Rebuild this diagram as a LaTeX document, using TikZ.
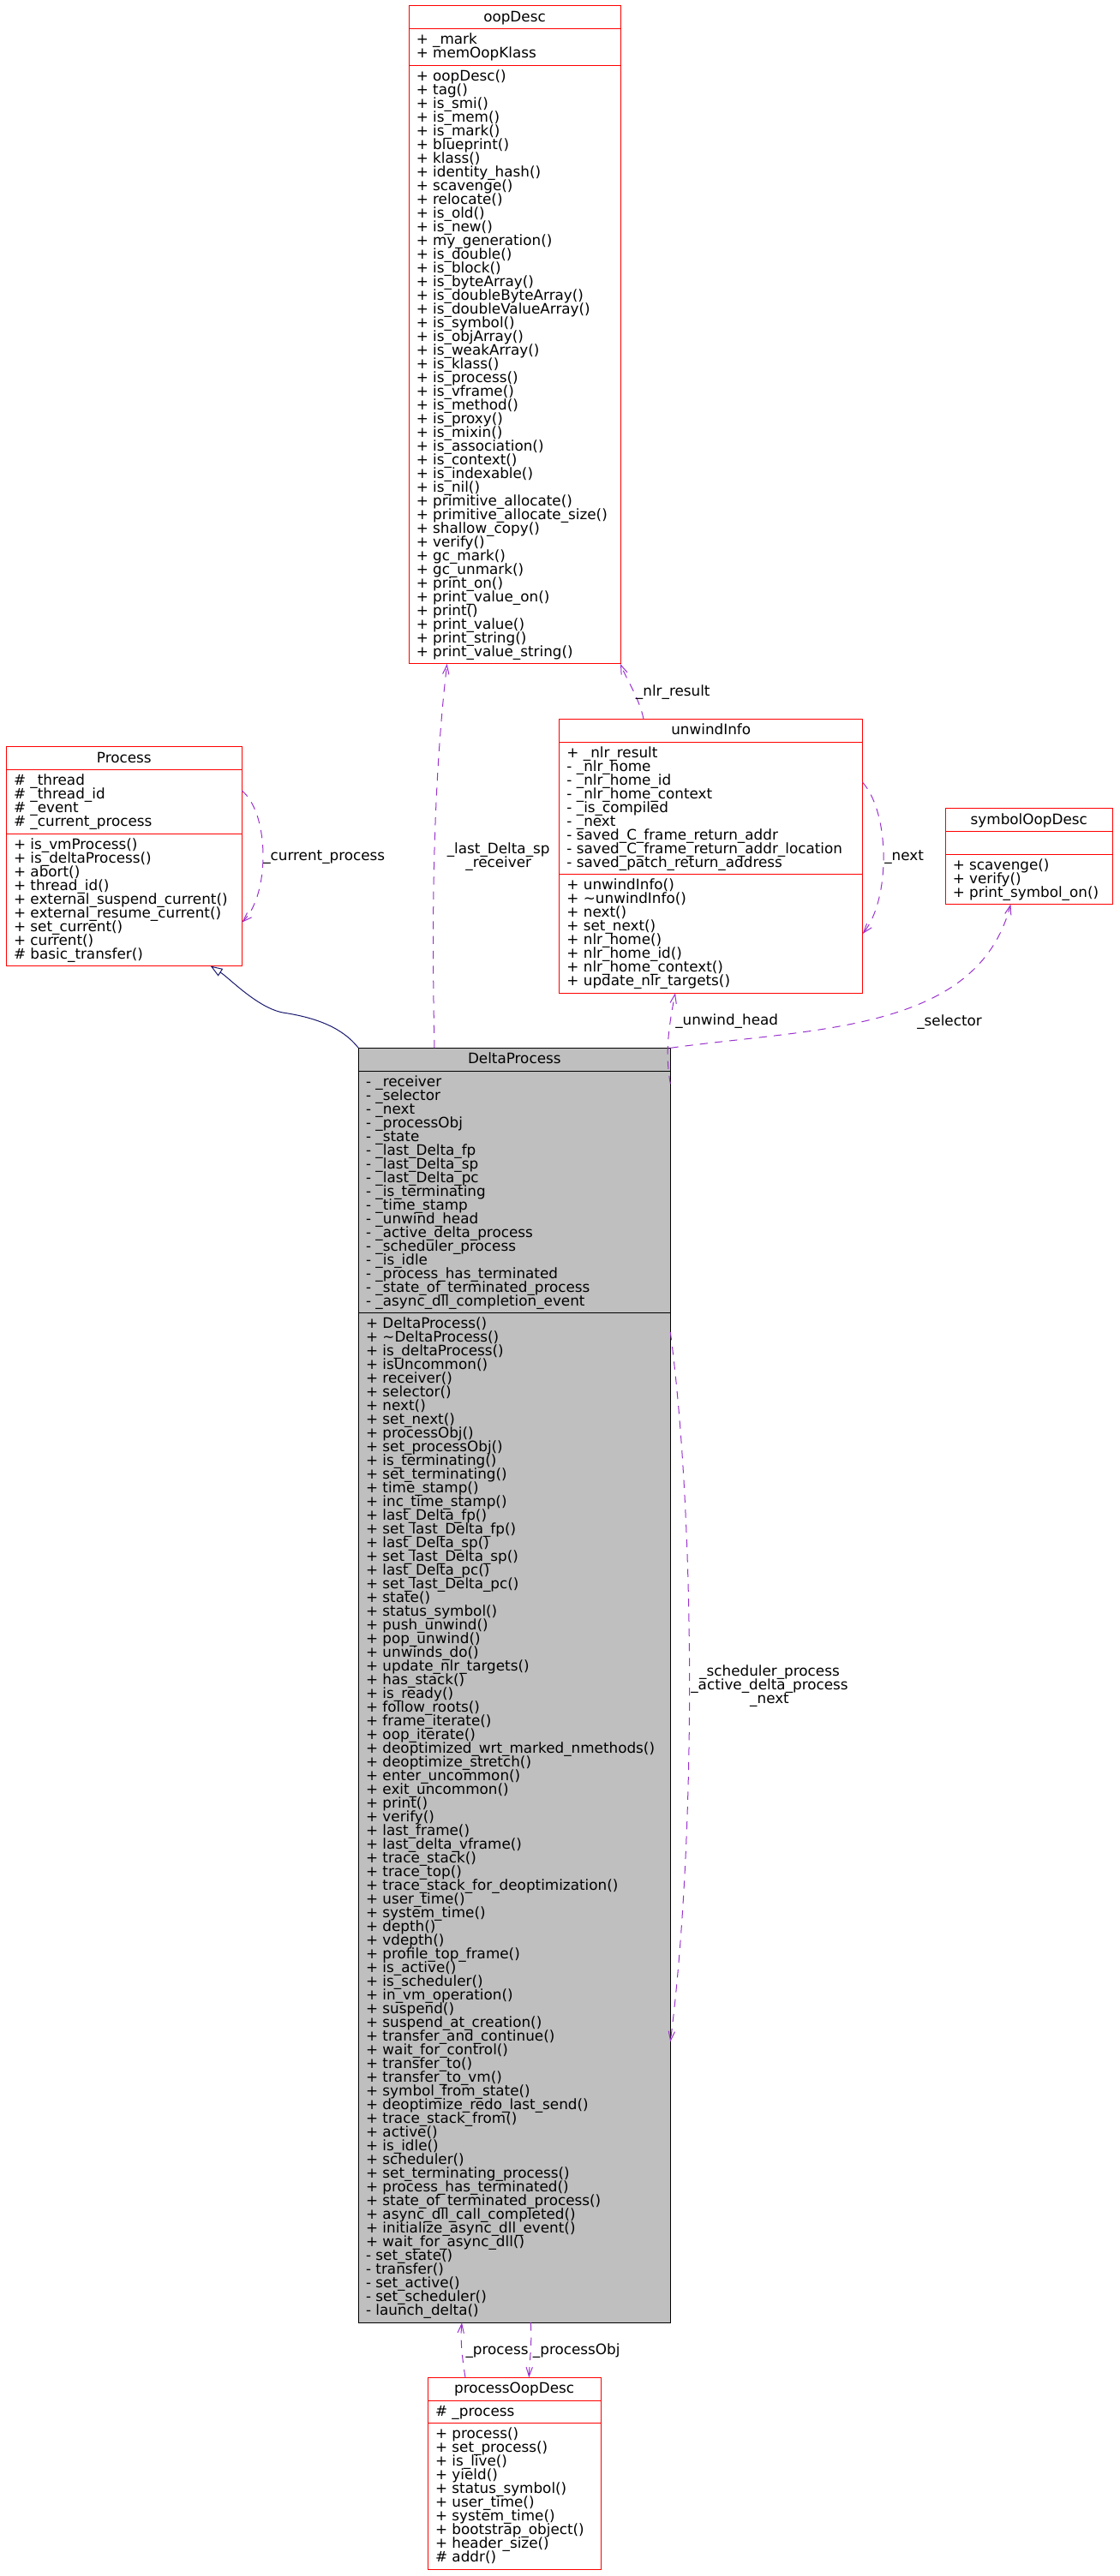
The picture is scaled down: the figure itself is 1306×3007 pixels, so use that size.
\documentclass[tikz,border=0pt]{standalone}
\usepackage{fontspec}
\setmainfont{DejaVu Sans}
\usetikzlibrary{arrows.meta,calc}
\definecolor{edgepurple}{HTML}{9A32CD}
\definecolor{inhblue}{HTML}{191970}
\definecolor{boxgrey}{HTML}{BFBFBF}
\newcommand\umlfont{\fontsize{12.6}{12}\selectfont}
\setlength{\lineskiplimit}{-100pt}
\tikzset{
  redbox/.style={draw=red, line width=0.75pt, fill=white, inner sep=0pt, outer sep=0pt},
  greybox/.style={draw=black, line width=0.75pt, fill=boxgrey, inner sep=0pt, outer sep=0pt},
  cls/.style={redbox},
  linetext/.style={font=\umlfont, inner sep=0pt, anchor=base west},
  titletext/.style={font=\umlfont, inner sep=0pt, anchor=base},
  usage/.style={draw=edgepurple, line width=0.75pt, dash pattern=on 7pt off 6pt,
    -{Straight Barb[length=8pt,width=5.5pt]}},
  inh/.style={draw=inhblue, line width=0.75pt,
    -{Triangle[open,length=10.5pt,width=7.5pt,fill=white]}},
  lbl/.style={font=\umlfont, inner sep=0pt, anchor=base west},
  lblc/.style={font=\umlfont, inner sep=0pt, anchor=base},
}
\catcode`\_=12
% #1 name, #2 left, #3 top, #4 width, #5 title, #6 n attrs, #7 attrs, #8 n methods, #9 methods
\newcommand\umlclass[9]{%
  \pgfmathsetmacro\clsya{#3+26.7}%
  \pgfmathsetmacro\clsyb{\clsya+(#6==0)*26.7+(#6>0)*(16*#6+10.7)}%
  \pgfmathsetmacro\clsyc{\clsyb+16*#8+10.5}%
  \pgfmathsetmacro\clshh{(\clsyc-#3)*0.75}%
  \pgfmathsetmacro\clsww{#4*0.75}%
  \node[cls, anchor=north west, minimum width=\clsww pt, minimum height=\clshh pt] (#1) at (#2,#3) {};
  \draw[cls, fill=none] (#2,\clsya) -- ++(#4,0);
  \draw[cls, fill=none] (#2,\clsyb) -- ++(#4,0);
  \node[titletext] (#1-title) at ({#2+#4/2},{#3+18.5}) {#5};
  \ifnum#6>0
    \foreach \itm [count=\i from 0] in {#7} {\node[linetext] (#1-a\i) at ({#2+8.5},{\clsya+18+16*\i}) {\itm};}
  \fi
  \foreach \itm [count=\i from 0] in {#9} {\node[linetext] (#1-m\i) at ({#2+8.5},{\clsyb+18+16*\i}) {\itm};}
}
\begin{document}
\begin{tikzpicture}[x=0.75pt,y=-0.75pt]
\fill[white] (0,0) rectangle (1306,3007);
\useasboundingbox (0,0) rectangle (1306,3007);

\tikzset{cls/.style={redbox}}
\umlclass{oop}{477}{7}{247}{oopDesc}{2}{+ _mark, + memOopKlass}{43}{+ oopDesc(), + tag(), + is_smi(), + is_mem(), + is_mark(), + blueprint(), + klass(), + identity_hash(), + scavenge(), + relocate(), + is_old(), + is_new(), + my_generation(), + is_double(), + is_block(), + is_byteArray(), + is_doubleByteArray(), + is_doubleValueArray(), + is_symbol(), + is_objArray(), + is_weakArray(), + is_klass(), + is_process(), + is_vframe(), + is_method(), + is_proxy(), + is_mixin(), + is_association(), + is_context(), + is_indexable(), + is_nil(), + primitive_allocate(), + primitive_allocate_size(), + shallow_copy(), + verify(), + gc_mark(), + gc_unmark(), + print_on(), + print_value_on(), + print(), + print_value(), + print_string(), + print_value_string()}

\umlclass{proc}{7.3}{871.7}{275}{Process}{4}{\# _thread, \# _thread_id, \# _event, \# _current_process}{9}{+ is_vmProcess(), + is_deltaProcess(), + abort(), + thread_id(), + external_suspend_current(), + external_resume_current(), + set_current(), + current(), \# basic_transfer()}

\umlclass{unwind}{652.7}{839.3}{354}{unwindInfo}{9}{+ _nlr_result, - _nlr_home, - _nlr_home_id, - _nlr_home_context, - _is_compiled, - _next, - saved_C_frame_return_addr, - saved_C_frame_return_addr_location, - saved_patch_return_address}{8}{+ unwindInfo(), + \textasciitilde unwindInfo(), + next(), + set_next(), + nlr_home(), + nlr_home_id(), + nlr_home_context(), + update_nlr_targets()}

\umlclass{sym}{1103}{943.7}{195.5}{symbolOopDesc}{0}{}{3}{+ scavenge(), + verify(), + print_symbol_on()}

\tikzset{cls/.style={greybox}}
\umlclass{delta}{418.3}{1223.3}{364}{DeltaProcess}{17}{- _receiver, - _selector, - _next, - _processObj, - _state, - _last_Delta_fp, - _last_Delta_sp, - _last_Delta_pc, - _is_terminating, - _time_stamp, - _unwind_head, - _active_delta_process, - _scheduler_process, - _is_idle, - _process_has_terminated, - _state_of_terminated_process, - _async_dll_completion_event}{73}{+ DeltaProcess(), + \textasciitilde DeltaProcess(), + is_deltaProcess(), + isUncommon(), + receiver(), + selector(), + next(), + set_next(), + processObj(), + set_processObj(), + is_terminating(), + set_terminating(), + time_stamp(), + inc_time_stamp(), + last_Delta_fp(), + set_last_Delta_fp(), + last_Delta_sp(), + set_last_Delta_sp(), + last_Delta_pc(), + set_last_Delta_pc(), + state(), + status_symbol(), + push_unwind(), + pop_unwind(), + unwinds_do(), + update_nlr_targets(), + has_stack(), + is_ready(), + follow_roots(), + frame_iterate(), + oop_iterate(), + deoptimized_wrt_marked_nmethods(), + deoptimize_stretch(), + enter_uncommon(), + exit_uncommon(), + print(), + verify(), + last_frame(), + last_delta_vframe(), + trace_stack(), + trace_top(), + trace_stack_for_deoptimization(), + user_time(), + system_time(), + depth(), + vdepth(), + profile_top_frame(), + is_active(), + is_scheduler(), + in_vm_operation(), + suspend(), + suspend_at_creation(), + transfer_and_continue(), + wait_for_control(), + transfer_to(), + transfer_to_vm(), + symbol_from_state(), + deoptimize_redo_last_send(), + trace_stack_from(), + active(), + is_idle(), + scheduler(), + set_terminating_process(), + process_has_terminated(), + state_of_terminated_process(), + async_dll_call_completed(), + initialize_async_dll_event(), + wait_for_async_dll(), - set_state(), - transfer(), - set_active(), - set_scheduler(), - launch_delta()}

\tikzset{cls/.style={redbox}}
\umlclass{pod}{499.3}{2775.3}{201.7}{processOopDesc}{1}{\# _process}{10}{+ process(), + set_process(), + is_live(), + yield(), + status_symbol(), + user_time(), + system_time(), + bootstrap_object(), + header_size(), \# addr()}

% inheritance
\draw[inh] (delta.north west) .. controls (400,1200) and (370,1188) .. (330,1182)
  .. controls (300,1176) and (268,1142) .. ($(proc.south west)+(238.4,0)$);

% Process self loop
\draw[usage] ($(proc.north east)+(0,51.3)$) .. controls (315,950) and (315,1045) .. ($(proc.north east)+(0,205)$);
\node[lbl] (lcur) at (307,1004) {_current_process};

% unwindInfo self loop
\draw[usage] ($(unwind.north east)+(0,74)$) .. controls (1039,950) and (1039,1050) .. ($(unwind.north east)+(0,250.7)$);
\node[lbl] (lnext) at (1032,1004) {_next};

% unwindInfo -> oopDesc
\draw[usage] ($(unwind.north west)+(98.3,0)$) .. controls (746,815) and (732,795) .. (oop.south east);
\node[lbl] (lnlr) at (741.7,812.7) {_nlr_result};

% DeltaProcess -> oopDesc
\draw[usage] ($(delta.north west)+(88.7,0)$) .. controls (503,1050) and (507,900) .. ($(oop.south west)+(44.7,0)$);
\node[lblc] (lsp) at (581.7,996.7) {_last_Delta_sp};
\node[lblc] (lrcv) at (581.7,1012.7) {_receiver};

% DeltaProcess -> unwindInfo
\draw[usage] ($(delta.north east)+(0,41.7)$) .. controls (776,1230) and (780,1200) .. ($(unwind.south west)+(135.3,0)$);
\node[lbl] (lunw) at (788,1196) {_unwind_head};

% DeltaProcess -> symbolOopDesc
\draw[usage] (delta.north east) .. controls (950,1200) and (1140,1205) .. ($(sym.south west)+(76.4,0)$);
\node[lbl] (lsel) at (1070,1197) {_selector};

% DeltaProcess self loop
\draw[usage] ($(delta.north east)+(0,331.7)$) .. controls (812,1780) and (812,2150) .. ($(delta.north east)+(0,1160)$);
\node[lblc] (ls1) at (898,1956) {_scheduler_process};
\node[lblc] (ls2) at (898,1972) {_active_delta_process};
\node[lblc] (ls3) at (898,1988) {_next};

% processOopDesc <-> DeltaProcess
\draw[usage] ($(pod.north west)+(43.7,0)$) .. controls (539,2750) and (537,2730) .. ($(delta.south west)+(120.7,0)$);
\node[lbl] (lproc) at (543.3,2748.3) {_process};
\draw[usage] ($(delta.south west)+(201,0)$) .. controls (621,2735) and (618,2755) .. ($(pod.north west)+(118,0)$);
\node[lbl] (lpobj) at (621.7,2748.3) {_processObj};
\end{tikzpicture}
\end{document}
